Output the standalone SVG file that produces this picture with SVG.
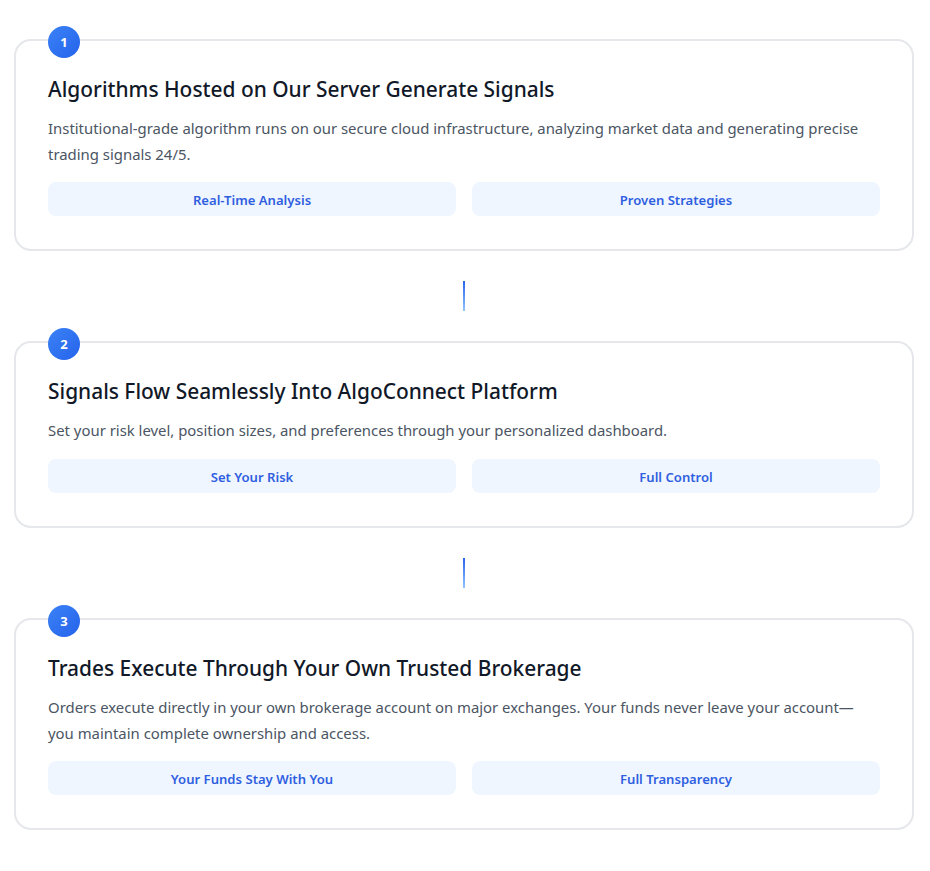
<svg xmlns="http://www.w3.org/2000/svg" width="930" height="871" viewBox="0 0 930 871">
<style>
.card{fill:#fff;stroke:#e5e7eb;stroke-width:2}
.badge{fill:url(#bg)}
.num{font-family:"Noto Sans","Open Sans",sans-serif;font-size:13px;font-weight:700;fill:#fff;text-anchor:middle}
.title{font-family:"Noto Sans","Open Sans",sans-serif;font-size:20.9px;font-weight:500;fill:#111827}
.desc{font-family:"Noto Sans","Open Sans",sans-serif;font-size:14.9px;fill:#4b5563}
.pill{fill:#eff6ff}
.ptxt{font-family:"Noto Sans","Open Sans",sans-serif;font-size:13.1px;font-weight:600;fill:#2f5fe0;text-anchor:middle}
.conn{fill:url(#cg)}
</style>
<defs>
<linearGradient id="bg" x1="0" y1="0" x2="1" y2="1"><stop offset="0" stop-color="#3b82f6"/><stop offset="1" stop-color="#2563eb"/></linearGradient>
<linearGradient id="cg" x1="0" y1="0" x2="0" y2="1"><stop offset="0" stop-color="#2563eb"/><stop offset="1" stop-color="#93c5fd"/></linearGradient>
</defs>
<rect width="930" height="871" fill="#fff"/>
<g id="connectors">
<rect class="conn" x="463" y="281" width="2" height="30"/>
<rect class="conn" x="463" y="558" width="2" height="30"/>
</g>
<g id="step1">
<rect class="card" x="15" y="40" width="898" height="210" rx="16"/>
<circle class="badge" cx="64" cy="42" r="16"/>
<text class="num" x="64" y="47">1</text>
<text class="title" x="48" y="97">Algorithms Hosted on Our Server Generate Signals</text>
<text class="desc" x="48" y="134">Institutional-grade algorithm runs on our secure cloud infrastructure, analyzing market data and generating precise</text>
<text class="desc" x="48" y="160">trading signals 24/5.</text>
<rect class="pill" x="48" y="182" width="408" height="34" rx="8"/>
<text class="ptxt" x="252" y="205">Real-Time Analysis</text>
<rect class="pill" x="472" y="182" width="408" height="34" rx="8"/>
<text class="ptxt" x="676" y="205">Proven Strategies</text>
</g>
<g id="step2">
<rect class="card" x="15" y="342" width="898" height="185" rx="16"/>
<circle class="badge" cx="64" cy="344" r="16"/>
<text class="num" x="64" y="349">2</text>
<text class="title" x="48" y="399">Signals Flow Seamlessly Into AlgoConnect Platform</text>
<text class="desc" x="48" y="436">Set your risk level, position sizes, and preferences through your personalized dashboard.</text>
<rect class="pill" x="48" y="459" width="408" height="34" rx="8"/>
<text class="ptxt" x="252" y="482">Set Your Risk</text>
<rect class="pill" x="472" y="459" width="408" height="34" rx="8"/>
<text class="ptxt" x="676" y="482">Full Control</text>
</g>
<g id="step3">
<rect class="card" x="15" y="619" width="898" height="210" rx="16"/>
<circle class="badge" cx="64" cy="621" r="16"/>
<text class="num" x="64" y="626">3</text>
<text class="title" x="48" y="676">Trades Execute Through Your Own Trusted Brokerage</text>
<text class="desc" x="48" y="713">Orders execute directly in your own brokerage account on major exchanges. Your funds never leave your account—</text>
<text class="desc" x="48" y="739">you maintain complete ownership and access.</text>
<rect class="pill" x="48" y="761" width="408" height="34" rx="8"/>
<text class="ptxt" x="252" y="784">Your Funds Stay With You</text>
<rect class="pill" x="472" y="761" width="408" height="34" rx="8"/>
<text class="ptxt" x="676" y="784">Full Transparency</text>
</g>
</svg>
